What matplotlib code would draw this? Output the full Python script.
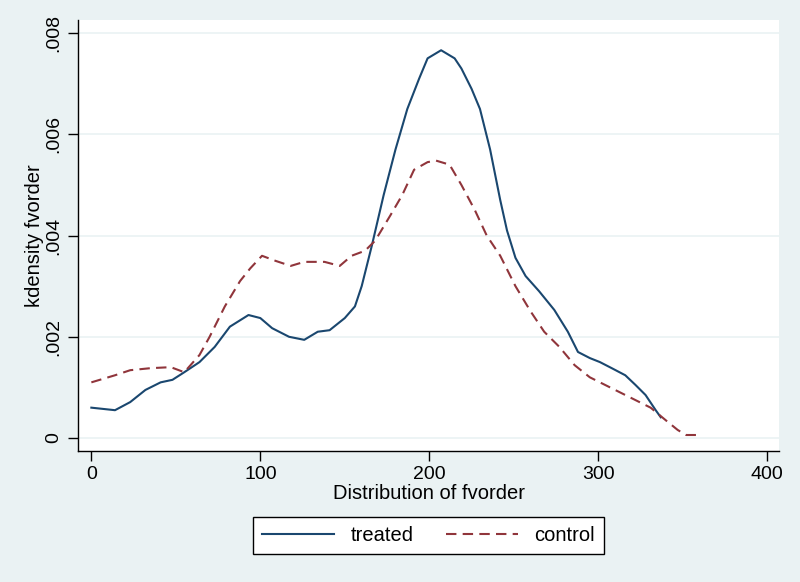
import matplotlib.pyplot as plt

plt.rcParams['font.family'] = ['Liberation Sans', 'DejaVu Sans']

# kernel density estimates
treated_x = [0, 14, 23, 32, 41, 48, 55, 64, 73, 82, 93, 100, 107, 117, 126, 134, 141,
             150, 156, 160, 166, 173, 180, 187, 194, 199, 207, 215, 219, 225, 230, 236,
             242, 246, 251, 257, 265, 274, 282, 288, 295, 301, 308, 316, 322, 328, 334, 337]
treated_y = [0.0006, 0.00055, 0.00071, 0.00095, 0.0011, 0.00115, 0.0013, 0.0015, 0.0018,
             0.0022, 0.00243, 0.00237, 0.00217, 0.002, 0.00194, 0.0021, 0.00213, 0.00237,
             0.0026, 0.003, 0.0038, 0.0048, 0.0057, 0.0065, 0.0071, 0.0075, 0.00766, 0.0075,
             0.0073, 0.0069, 0.0065, 0.0057, 0.0047, 0.0041, 0.00356, 0.0032, 0.0029,
             0.00253, 0.0021, 0.0017, 0.00158, 0.0015, 0.00138, 0.00124, 0.00105, 0.00085,
             0.00055, 0.00041]

control_x = [0, 5, 14, 23, 35, 47, 55, 64, 70, 79, 88, 94, 101, 109, 118, 126, 138, 147,
             154, 162, 168, 177, 184, 191, 199, 204, 212, 219, 227, 234, 242, 251, 260,
             268, 277, 286, 295, 304, 313, 322, 331, 340, 347, 352, 361]
control_y = [0.0011, 0.00115, 0.00124, 0.00134, 0.00138, 0.0014, 0.0013, 0.00164, 0.002,
             0.0026, 0.0031, 0.00335, 0.0036, 0.0035, 0.0034, 0.00348, 0.00348, 0.0034,
             0.0036, 0.0037, 0.0039, 0.0044, 0.0048, 0.0053, 0.00545, 0.00548, 0.0054,
             0.005, 0.0045, 0.004, 0.0036, 0.003, 0.0025, 0.0021, 0.0018, 0.00144, 0.0012,
             0.00105, 0.0009, 0.00075, 0.0006, 0.00035, 0.00016, 0.00006, 0.00006]

x_ticks = [0, 100, 200, 300, 400]
y_ticks = [0, 0.002, 0.004, 0.006, 0.008]
y_tick_labels = ['0', '.002', '.004', '.006', '.008']

bg = '#eaf2f3'
fig = plt.figure(figsize=(8, 5.82), dpi=100, facecolor=bg)
ax = fig.add_axes([0.0975, 0.225, 0.8763, 0.7406])
ax.set_facecolor('white')

ax.plot(treated_x, treated_y, color='#1a476f', linewidth=1.5, label='treated')
ax.plot(control_x, control_y, color='#90353b', linewidth=1.5, linestyle=(0, (5, 3)),
        label='control')

ax.set_xlim(-7.9, 407)
ax.set_ylim(-0.000257, 0.008257)
ax.set_xticks(x_ticks)
ax.set_yticks(y_ticks)
ax.set_yticklabels(y_tick_labels, rotation=90, va='center')
ax.yaxis.grid(True, color=bg, linewidth=1.2)
ax.set_axisbelow(True)

for side in ['top', 'right']:
    ax.spines[side].set_visible(False)
for side in ['left', 'bottom']:
    ax.spines[side].set_color('black')
    ax.spines[side].set_linewidth(1.0)
ax.tick_params(direction='out', length=7, width=1, labelsize=14, colors='black')
ax.tick_params(axis='y', pad=4)

ax.set_xlabel('Distribution of fvorder', fontsize=14.5, labelpad=1)
ax.set_ylabel('kdensity fvorder', fontsize=14.5, labelpad=1)

leg = ax.legend(loc='upper center', bbox_to_anchor=(0.5, -0.13), ncol=2, fontsize=14.5,
                handlelength=3.6, columnspacing=1.6, frameon=True, fancybox=False,
                borderpad=0.45, edgecolor='black', facecolor='white', framealpha=1)
leg.get_frame().set_linewidth(1.0)

fig.savefig('out.png', dpi=100, facecolor=bg)
